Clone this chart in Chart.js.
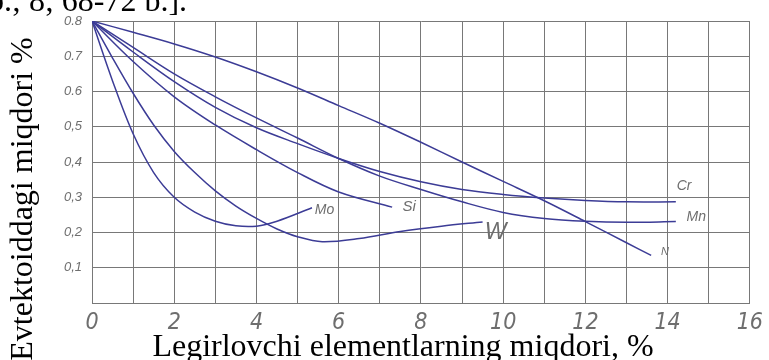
<!DOCTYPE html>
<html>
<head>
<meta charset="utf-8">
<script src="https://cdn.jsdelivr.net/npm/chart.js@4.4.1/dist/chart.umd.min.js"></script>
<style>
  html, body { margin: 0; padding: 0; background: #fff; overflow: hidden; }
  #wrap { position: relative; width: 769px; height: 360px; }
</style>
</head>
<body>
<div id="wrap"><canvas id="chjs_chart0" width="769" height="360"></canvas></div>
<script>
// values (x = % of alloying element, y = eutectoid carbon %)
const nX  = [0, 1, 2, 3, 4, 5, 6, 7, 8, 9, 10, 11, 12, 13, 13.6];
const nY  = [0.8, 0.768, 0.735, 0.698, 0.656, 0.61, 0.56, 0.51, 0.456, 0.40, 0.345, 0.29, 0.231, 0.171, 0.135];
const crX = [0, 1, 2, 3, 4, 5, 6, 7, 8, 9, 10, 11, 12, 13, 14.2];
const crY = [0.8, 0.712, 0.628, 0.555, 0.497, 0.452, 0.41, 0.373, 0.344, 0.322, 0.308, 0.298, 0.291, 0.287, 0.287];
const mnX = [0, 1, 2, 3, 4, 5, 6, 7, 8, 9, 10, 11, 12, 13, 14.2];
const mnY = [0.8, 0.725, 0.65, 0.585, 0.525, 0.468, 0.41, 0.36, 0.322, 0.287, 0.257, 0.24, 0.232, 0.229, 0.231];
const siX = [0, 1, 2, 3, 4, 5, 6, 7.3];
const siY = [0.8, 0.685, 0.585, 0.505, 0.435, 0.37, 0.315, 0.272];
const moX = [0, 0.5, 1, 1.5, 2, 2.5, 3, 3.5, 4, 4.5, 5.35];
const moY = [0.8, 0.63, 0.48, 0.37, 0.30, 0.258, 0.232, 0.219, 0.218, 0.232, 0.27];
const wX  = [0, 0.5, 1, 1.5, 2, 2.5, 3, 3.5, 4, 4.5, 5, 5.6, 6.5, 7.5, 8.5, 9.5];
const wY  = [0.8, 0.695, 0.595, 0.505, 0.43, 0.37, 0.318, 0.275, 0.24, 0.21, 0.188, 0.174, 0.183, 0.203, 0.218, 0.23];

const seriesNames = ["N", "Cr", "Mn", "Si", "Mo", "W"];
const seriesX = [nX, crX, mnX, siX, moX, wX];
const seriesY = [nY, crY, mnY, siY, moY, wY];
// where each curve name sits (data units)
const labelX = [13.84, 14.22, 14.46, 7.55, 5.42, 9.55];
const labelY = [0.145, 0.332, 0.244, 0.272, 0.264, 0.20];

const xTickLabels = ["0", "", "2", "", "4", "", "6", "", "8", "", "10", "", "12", "", "14", "", "16"];
const yTickLabels = ["", "0,1", "0,2", "0,3", "0,4", "0,5", "0.6", "0.7", "0.8"];

const xTitle = "Legirlovchi elementlarning miqdori, %";
const yTitle = "Evtektoiddagi miqdori %";
const topText = "b.; 8; 68-72 b.].";

const lineColor = "rgb(60, 60, 150)";
const gridColor = "rgb(120, 120, 120)";
const tickColor = "rgb(110, 110, 110)";
const labelSizes = [11, 14, 14, 15, 14, 23];

function toPoints(xs, ys){
    const pts = [];
    for (let i = 0; i < xs.length; i++){
        pts.push({x: xs[i], y: ys[i]});
    }
    return pts;
}

const datasets = [];
for (let i = 0; i < seriesNames.length; i++){
    datasets.push({
        label: seriesNames[i],
        data: toPoints(seriesX[i], seriesY[i]),
        borderColor: lineColor,
        borderWidth: 1.5,
        pointRadius: 0,
        fill: false,
        showLine: true,
        tension: 0.35
    });
}

// curve names and axis titles
const textPlugin = {
    id: "texts",
    afterDraw(chart){
        const ctx = chart.ctx;
        const xs = chart.scales.x, ys = chart.scales.y;
        ctx.save();
        ctx.fillStyle = tickColor;
        ctx.textAlign = "left";
        ctx.textBaseline = "middle";
        for (let i = 0; i < seriesNames.length; i++){
            ctx.font = "italic " + labelSizes[i] + "px 'Liberation Sans', Arial, sans-serif";
            ctx.fillText(seriesNames[i], xs.getPixelForValue(labelX[i]), ys.getPixelForValue(labelY[i]));
        }
        ctx.fillStyle = "#000";
        ctx.font = "32px 'Liberation Serif', 'Times New Roman', serif";
        ctx.textBaseline = "alphabetic";
        ctx.textAlign = "center";
        ctx.fillText(xTitle, 403, 356);
        ctx.textAlign = "left";
        ctx.fillText(topText, -12, 11);
        ctx.translate(32, 199);
        ctx.rotate(-Math.PI / 2);
        ctx.textAlign = "center";
        ctx.fillText(yTitle, 0, 0);
        ctx.restore();
    }
};

new Chart(document.getElementById("chjs_chart0"), {
    type: "scatter",
    data: { datasets: datasets },
    options: {
        responsive: false,
        animation: false,
        layout: { padding: { top: 21, right: 10, left: 0, bottom: 0 } },
        plugins: { legend: { display: false }, tooltip: { enabled: false } },
        scales: {
            x: {
                type: "linear",
                min: 0, max: 16,
                afterFit: (s) => { s.height = 57; },
                ticks: {
                    stepSize: 1,
                    autoSkip: false,
                    maxRotation: 0,
                    padding: 6,
                    color: tickColor,
                    font: { family: "'Liberation Sans Narrow', 'DejaVu Sans Condensed', 'Liberation Sans', sans-serif", size: 23, style: "italic" },
                    callback: (v, i) => xTickLabels[i]
                },
                grid: { color: gridColor, lineWidth: 1, drawTicks: false },
                border: { color: gridColor }
            },
            y: {
                type: "linear",
                min: 0, max: 0.8,
                afterFit: (s) => { s.width = 92; },
                ticks: {
                    stepSize: 0.1,
                    autoSkip: false,
                    padding: 10,
                    color: tickColor,
                    font: { family: "'Liberation Sans', Arial, sans-serif", size: 13, style: "italic" },
                    callback: (v, i) => yTickLabels[i]
                },
                grid: { color: gridColor, lineWidth: 1, drawTicks: false },
                border: { color: gridColor }
            }
        }
    },
    plugins: [textPlugin]
});
</script>
</body>
</html>
